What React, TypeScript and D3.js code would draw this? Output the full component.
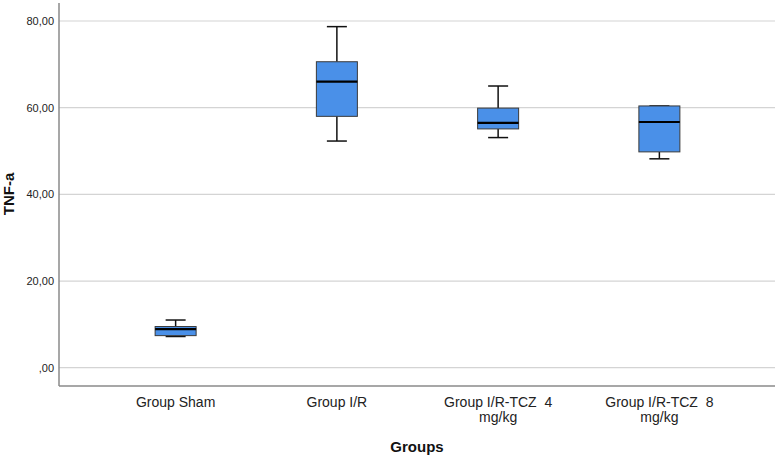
import React from "react";
import * as d3 from "d3";

const groups = ["Group Sham", "Group I/R", "Group I/R-TCZ  4 mg/kg", "Group I/R-TCZ  8 mg/kg"];
const groupLines = [["Group Sham"], ["Group I/R"], ["Group I/R-TCZ  4", "mg/kg"], ["Group I/R-TCZ  8", "mg/kg"]];
const whiskerLow = [7.2, 52.3, 53.1, 48.2];
const q1 = [7.4, 58.0, 55.1, 49.8];
const median = [8.9, 66.0, 56.5, 56.7];
const q3 = [9.5, 70.6, 59.9, 60.4];
const whiskerHigh = [11.0, 78.7, 65.0, 60.4];
const yTicks = [0, 20, 40, 60, 80];

const W = 779, H = 458;
const left = 59, right = 775, top = 3, bottom = 386;

export default function App() {
  const y = d3.scaleLinear().domain([0, 80]).range([367.7, 21]);
  const x = d3.scaleBand().domain(groups).range([95, 740]);
  const bw = 41, cap = 20;
  const fmt = (v: number) => (v === 0 ? ",00" : v.toFixed(2).replace(".", ","));
  return (
    <svg width={W} height={H} style={{ position: "absolute", left: 0, top: 0, background: "#fff" }}
      fontFamily="Liberation Sans, Arial, sans-serif">
      {yTicks.map((t) => (
        <g key={t}>
          <line x1={left} x2={right} y1={y(t)} y2={y(t)} stroke="#d4d4d4" strokeWidth={1.2} />
          <text x={54} y={y(t)} dy="0.35em" textAnchor="end" fontSize={11} fill="#222">{fmt(t)}</text>
        </g>
      ))}
      <line x1={left} x2={left} y1={top} y2={bottom} stroke="#8a8a8a" strokeWidth={1.5} />
      <line x1={left} x2={right} y1={bottom} y2={bottom} stroke="#8a8a8a" strokeWidth={1.5} />
      {groups.map((g, i) => {
        const cx = (x(g) as number) + x.bandwidth() / 2;
        return (
          <g key={g}>
            <line x1={cx} x2={cx} y1={y(whiskerHigh[i])} y2={y(q3[i])} stroke="#111" strokeWidth={1.5} />
            <line x1={cx} x2={cx} y1={y(q1[i])} y2={y(whiskerLow[i])} stroke="#111" strokeWidth={1.5} />
            <line x1={cx - cap / 2} x2={cx + cap / 2} y1={y(whiskerHigh[i])} y2={y(whiskerHigh[i])} stroke="#111" strokeWidth={1.5} />
            <line x1={cx - cap / 2} x2={cx + cap / 2} y1={y(whiskerLow[i])} y2={y(whiskerLow[i])} stroke="#111" strokeWidth={1.5} />
            <rect x={cx - bw / 2} y={y(q3[i])} width={bw} height={y(q1[i]) - y(q3[i])} fill="#4a90e8" stroke="#3a3a3a" strokeWidth={1} />
            <line x1={cx - bw / 2} x2={cx + bw / 2} y1={y(median[i])} y2={y(median[i])} stroke="#000" strokeWidth={2.2} />
            {groupLines[i].map((l, k) => (
              <text key={k} x={cx} y={407 + k * 15} textAnchor="middle" fontSize={14} fill="#222" style={{ whiteSpace: "pre" }}>{l}</text>
            ))}
          </g>
        );
      })}
      <text x={417} y={452} textAnchor="middle" fontSize={15} fontWeight="bold" fill="#111">Groups</text>
      <text transform={`translate(14,194) rotate(-90)`} textAnchor="middle" fontSize={15} fontWeight="bold" fill="#111">TNF-a</text>
    </svg>
  );
}
